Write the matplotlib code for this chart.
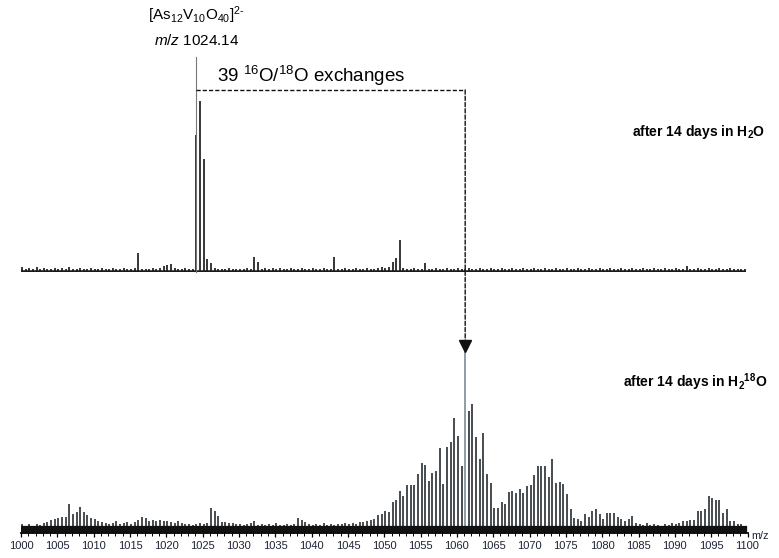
import numpy as np
import matplotlib
matplotlib.use("Agg")
import matplotlib.pyplot as plt
from matplotlib.patches import ConnectionPatch

plt.rcParams['font.family'] = ['Liberation Sans', 'DejaVu Sans']
plt.rcParams['mathtext.fontset'] = 'custom'
plt.rcParams['mathtext.rm'] = 'Liberation Sans'
plt.rcParams['mathtext.it'] = 'Liberation Sans:italic'
plt.rcParams['mathtext.bf'] = 'Liberation Sans:bold'

# isotope peaks every 0.5 m/z (z = 2), 1000.14 ... 1099.64
mz = np.arange(1000.14, 1100.0, 0.5)

# after 14 days in H2O (relative intensity, %)
h2o = [3, 2, 2.5, 2, 3, 2, 2.5, 2, 2, 2.5,
       2, 2.5, 2, 3, 2, 2, 2.5, 2, 2, 2.5,
       2, 2, 2.5, 2, 2, 2.5, 2, 2, 2.5, 2,
       2, 2.5, 11, 2, 2, 2, 2.5, 2, 2.5, 3.5,
       4, 4.5, 2.5, 2, 2, 2.5, 2, 2, 80, 100,
       66, 7.6, 5.3, 2.5, 2, 2, 2, 2.5, 2, 2,
       2, 2, 2.5, 2, 8.8, 5.8, 2, 2.5, 2, 2.5,
       2, 2.5, 2, 2, 2.5, 2, 2, 2.5, 2, 2,
       2.5, 2, 2, 2.5, 2, 2, 8.8, 2, 2, 2.5,
       2, 2, 2.5, 2, 2, 2.5, 2, 2, 2.5, 3,
       2.5, 3, 6, 8, 19, 2.5, 2, 2, 2.5, 2,
       2, 5, 2, 2, 2.5, 2, 2, 2.5, 2, 2,
       2.5, 2, 2, 2.5, 2, 2, 2.5, 2, 2, 2.5,
       2, 2, 2.5, 2, 2, 2.5, 2, 2, 2.5, 2,
       2, 2.5, 2, 2, 2.5, 2, 2, 2.5, 2, 2,
       2.5, 2, 2, 2.5, 2, 2, 2.5, 2, 2, 2.5,
       2, 2, 2.5, 2, 2, 2.5, 2, 2, 2.5, 2,
       2, 2.5, 2, 2, 2.5, 2, 2, 2.5, 2, 2,
       2.5, 2, 2, 3.5, 2, 2, 2.5, 2, 2, 2.5,
       2, 2, 2.5, 2, 2, 2.5, 2, 2, 2, 2]

# after 14 days in H2(18)O
h218o = [5, 4, 5, 4, 5, 4.5, 5.5, 6, 7, 7.5,
         8, 8.5, 9, 16, 10.5, 11.5, 14, 11.5, 10, 8,
         7.5, 6.5, 6, 5.5, 5, 5.5, 6.5, 5, 5.5, 6,
         5, 6, 7, 9, 8, 6.5, 7, 6.5, 7, 6.5,
         6.5, 6, 5.5, 6.5, 5.5, 5, 5, 4.5, 5, 5.5,
         5, 5.5, 13.5, 12, 9.5, 6, 6, 5.5, 5.5, 5,
         5, 4.5, 5, 5.5, 6.5, 4.5, 5, 4.5, 5, 4.5,
         5.5, 4.5, 4.5, 5, 4.5, 5, 8, 7, 6, 5,
         4.5, 5, 4.5, 5.5, 4.5, 5, 4.5, 5, 5, 5.5,
         5, 5.5, 5, 6, 6, 6.5, 7, 7.5, 10, 10.6,
         12, 11.5, 17, 18, 23, 20, 26, 26, 26, 32,
         38, 37, 28.5, 32.6, 34, 46.5, 27, 47, 50, 63,
         53, 36.6, 100, 66.6, 70.7, 52.4, 40.5, 54.8, 32, 27.5,
         13.4, 13.4, 17, 16, 22.5, 23, 21.6, 24, 22, 25.6,
         26.4, 31.5, 36.8, 36.8, 36.8, 30.8, 40.5, 27.3, 27.7, 27,
         21.2, 13, 8.4, 7.5, 6.6, 10.6, 8.5, 12, 13, 10.6,
         7.5, 11, 11, 11, 8.5, 7.5, 6.6, 7.5, 9.5, 5.5,
         5, 4.5, 5.5, 4.5, 5, 4.5, 4, 5, 4.5, 5.5,
         5, 5.5, 6.6, 6.6, 7, 7, 12, 12, 13, 20,
         19, 18.3, 18.3, 11, 13, 6.6, 6.6, 5, 5, 4]

parent_mz = 1024.14
exchanged_mz = 1061.14
major_ticks = list(range(1000, 1101, 5))

W, H = 779, 558
fig = plt.figure(figsize=(W / 100, H / 100), dpi=100)

# pixel layout
x0, x1 = 21, 747.5
ax_top = fig.add_axes([x0 / W, (H - 272) / H, (x1 - x0) / W, (272 - 57) / H])
ax_bot = fig.add_axes([x0 / W, (H - 533) / H, (x1 - x0) / W, (533 - 350) / H])

top_scale = 1.71   # px per %
ax_top.set_xlim(1000, 1100)
ax_top.set_ylim(0, (272 - 57) / top_scale)
ax_top.axis('off')
ax_top.vlines(mz, 0, h2o, color='#262626', linewidth=1.3)
ax_top.axhline(0.7, xmin=0, xmax=0.995, color='#1a1a1a', linewidth=1.8)

ax_bot.set_xlim(1000, 1100)
ax_bot.set_ylim(0, 100)
bot_colors = ['#8a9aa0' if v == 100 else '#3f4548' for v in h218o]
ax_bot.vlines(mz, 0, h218o, colors=bot_colors, linewidth=1.35)
ax_bot.axhline(2.4, xmin=0, xmax=0.995, color='#111111', linewidth=4.5)

for s in ['top', 'left', 'right']:
    ax_bot.spines[s].set_visible(False)
ax_bot.spines['bottom'].set_linewidth(1.3)
ax_bot.set_yticks([])
ax_bot.set_xticks(major_ticks)
ax_bot.set_xticks(range(1000, 1101), minor=True)
ax_bot.tick_params(axis='x', which='major', length=3.2, width=0.9, pad=2.5,
                   labelsize=8, labelcolor='#1e2436')
ax_bot.tick_params(axis='x', which='minor', length=2.2, width=0.7)
ax_bot.text(1.005, -0.015, 'm/z', transform=ax_bot.transAxes, fontsize=7.8,
            ha='left', va='center', color='#1e2436')

# annotations
ax_top.plot([parent_mz, parent_mz], [0, (272 - 57) / top_scale], color='#777777',
            linewidth=0.8, clip_on=False)
ax_top.text(parent_mz, (272 - 15) / top_scale, r'[As$_{12}$V$_{10}$O$_{40}$]$^{2\text{-}}$',
            ha='center', va='center', fontsize=11)
ax_top.text(parent_mz, (272 - 40) / top_scale, r'$\mathit{m/z}$ 1024.14',
            ha='center', va='center', fontsize=11)
ax_top.text(1026.98, (272 - 76) / top_scale, r'39 $^{16}$O/$^{18}$O exchanges',
            ha='left', va='center', fontsize=13.5)

y_dash = (272 - 90) / top_scale
ax_top.plot([parent_mz, exchanged_mz], [y_dash, y_dash], color='#111111',
            linewidth=1.0, linestyle=(0, (3, 1.5)), clip_on=False)
con = ConnectionPatch(xyA=(exchanged_mz, y_dash), coordsA=ax_top.transData,
                      xyB=(exchanged_mz, 103), coordsB=ax_bot.transData,
                      color='#111111', linewidth=1.0, linestyle=(0, (3, 1.5)))
fig.add_artist(con)
ax_bot.plot([exchanged_mz], [102], marker='v', markersize=8, color='#111111',
            clip_on=False)

ax_top.text(1102.4, (272 - 132) / top_scale, r'$\mathbf{after\ 14\ days\ in\ H_2O}$',
            ha='right', va='center', fontsize=10)
ax_bot.text(1102.7, (532 - 382) / 1.82, r'$\mathbf{after\ 14\ days\ in\ H_2{}^{18}O}$',
            ha='right', va='center', fontsize=10)

fig.savefig('out.png', dpi=100)
